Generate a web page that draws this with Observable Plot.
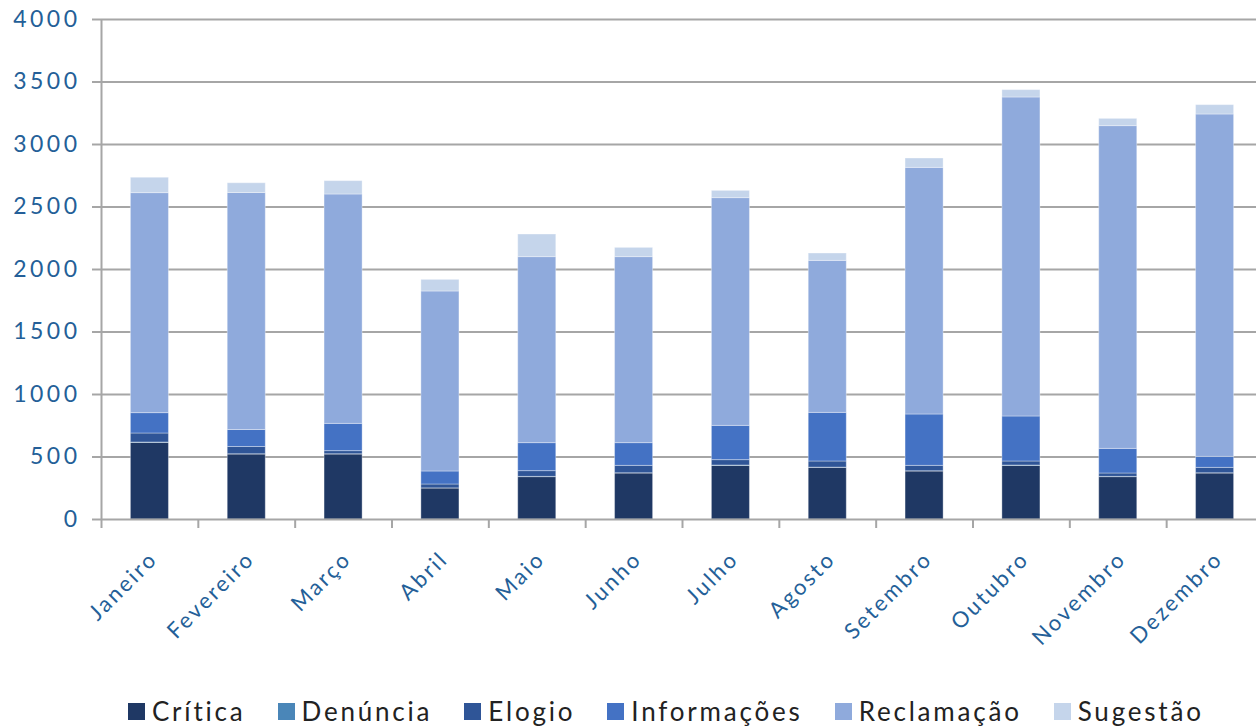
<!DOCTYPE html>
<html>
<head>
<meta charset="utf-8">
<script src="https://cdn.jsdelivr.net/npm/d3@7"></script>
<script src="https://cdn.jsdelivr.net/npm/@observablehq/plot@0.6"></script>
<style>
  html, body { margin: 0; padding: 0; background: #fff; overflow: hidden; }
  #wrap { position: relative; width: 1256px; height: 728px; }
  #legend { position: absolute; left: 128px; top: 695px; display: flex; gap: 32px;
            font-family: Lato, sans-serif; font-size: 26px; color: #222; letter-spacing: 2.8px; white-space: nowrap; }
  #legend .item { display: flex; align-items: center; gap: 7px; }
  #legend .sw { width: 17px; height: 17px; display: inline-block; }
  #chart svg g[aria-label="y-axis tick label"] text { letter-spacing: 3.5px; }
  #chart svg g[aria-label="text"] text { letter-spacing: 2.5px; }
</style>
</head>
<body>
<div id="wrap"><div id="chart"></div><div id="legend"></div></div>
<script>
const meses = ["Janeiro","Fevereiro","Março","Abril","Maio","Junho","Julho","Agosto","Setembro","Outubro","Novembro","Dezembro"];
const tipos = ["Crítica","Denúncia","Elogio","Informações","Reclamação","Sugestão"];
const cores = ["#1f3864","#4a86b8","#2f5597","#4472c4","#8faadc","#c5d5eb"];
const yTicks = [0,500,1000,1500,2000,2500,3000,3500,4000];

const critica     = [613,520,520,248,339,368,429,413,384,429,339,368];
const denuncia    = [3,2,2,1,2,2,3,2,2,3,2,2];
const elogio      = [72,58,25,31,46,59,43,49,43,32,27,43];
const informacoes = [163,136,218,104,224,182,274,389,411,360,197,88];
const reclamacao  = [1760,1896,1835,1440,1488,1488,1822,1216,1973,2552,2582,2739];
const sugestao    = [123,78,107,93,181,74,58,59,75,59,58,75];

const series = [critica, denuncia, elogio, informacoes, reclamacao, sugestao];
const data = [];
meses.forEach((m, i) => {
  tipos.forEach((t, j) => data.push({mes: m, tipo: t, valor: series[j][i]}));
});

const step = (1256 + 7 - 101) / 12;
const grey = "#a6a6a6";
const txt = "#245f98";

const chart = Plot.plot({
  width: 1256,
  height: 680,
  marginLeft: 101,
  marginRight: -7,
  marginTop: 19,
  marginBottom: 161,
  style: {fontFamily: "Lato, sans-serif", fontSize: "22px", background: "white", overflow: "visible"},
  x: {domain: meses, paddingInner: 0.607, paddingOuter: 0.3035, round: false, axis: null},
  y: {domain: [0, 4000], axis: null},
  color: {domain: tipos, range: cores},
  marks: [
    Plot.gridY(yTicks.slice(1), {stroke: grey, strokeOpacity: 1, strokeWidth: 2}),
    Plot.barY(data, {x: "mes", y: "valor", fill: "tipo", order: tipos, stroke: "#ffffff", strokeOpacity: 0.35, strokeWidth: 1}),
    Plot.ruleY([0], {stroke: grey, strokeWidth: 2}),
    Plot.ruleX([meses[0]], {x: d => d, dx: -step / 2, y1: 0, y2: 4000, stroke: grey, strokeWidth: 2}),
    Plot.ruleX(meses, {x: d => d, dx: -step / 2, y1: 0, y2: -72, stroke: grey, strokeWidth: 2}),
    Plot.axisY({ticks: yTicks, tickSize: 9, tickPadding: 12, tickFormat: d => String(d), stroke: grey, strokeWidth: 2, fill: txt, label: null, fontSize: 23}),
    Plot.text(meses, {x: d => d, y: 0, text: d => d, rotate: -45, textAnchor: "end", lineAnchor: "middle", dx: 4, dy: 36, fill: txt, fontSize: 22})
  ]
});
document.getElementById("chart").appendChild(chart);

const legend = document.getElementById("legend");
tipos.forEach((t, j) => {
  const it = document.createElement("div");
  it.className = "item";
  const sw = document.createElement("span");
  sw.className = "sw";
  sw.style.background = cores[j];
  const lb = document.createElement("span");
  lb.textContent = t;
  it.appendChild(sw); it.appendChild(lb);
  legend.appendChild(it);
});
</script>
</body>
</html>
